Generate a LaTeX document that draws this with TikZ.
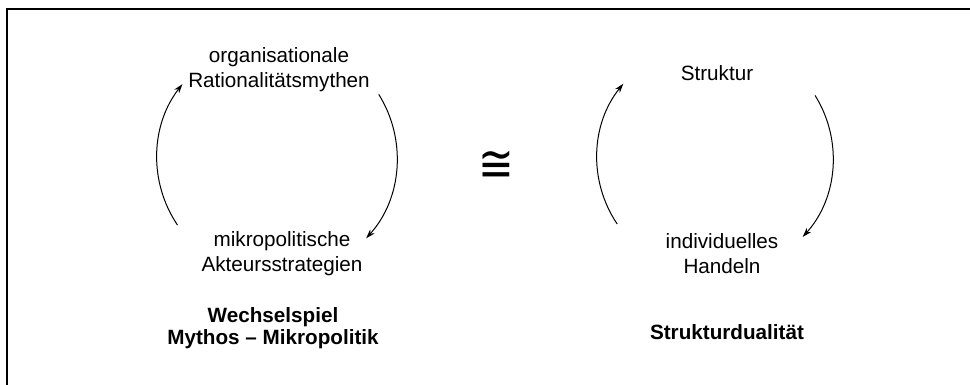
\documentclass[tikz,border=0pt]{standalone}
\usepackage{fontspec}
\setmainfont{Liberation Sans}
\newfontfamily\zeichenfont{DejaVu Sans}
\usetikzlibrary{arrows.meta}

\begin{document}
\begin{tikzpicture}[x=0.75pt,y=0.75pt,yscale=-1,xscale=1,
  lbl/.style={inner sep=0.75pt,align=center,font=\fontsize{15.5}{18.75}\selectfont},
  titel/.style={inner sep=0.75pt,align=center,font=\fontsize{15.5}{16.5}\selectfont\bfseries},
  kreis/.style={line width=0.75pt,-{Stealth[length=7pt,width=4.5pt]}}]
\useasboundingbox (0,0) rectangle (970,385);

%Shape: Frame
\draw [line width=1.2pt] (970,9) -- (7,9) -- (7,385) ;

%Shape: centres of the two cycles
\coordinate (mitte-l) at (277,158);
\coordinate (mitte-r) at (715,158);

% Text Node
\node [lbl] (mythen) at (279,70) {organisationale\\Rationalitätsmythen};
% Text Node
\node [lbl] (strategien) at (282,254) {mikropolitische\\Akteursstrategien};
% Text Node
\node [titel] (wechsel) at (273,328) {Wechselspiel\\Mythos -- Mikropolitik};

% Text Node
\node [lbl] (struktur) at (717,73) {Struktur};
% Text Node
\node [lbl] (handeln) at (722,254) {individuelles\\Handeln};
% Text Node
\node [titel] (dualitaet) at (727,332) {Strukturdualität};

% Text Node
\node [inner sep=0pt,font=\fontsize{32}{32}\zeichenfont,yscale=1.2] (gleich) at (496,166) {≅};

%Shape: Arc
\draw [kreis] ([shift={(146:120)}]mitte-l) arc [start angle=146, end angle=218, radius=120] ;
%Shape: Arc
\draw [kreis] ([shift={(-32:120)}]mitte-l) arc [start angle=-32, end angle=42, radius=120] ;
%Shape: Arc
\draw [kreis] ([shift={(146:118)}]mitte-r) arc [start angle=146, end angle=219, radius=118] ;
%Shape: Arc
\draw [kreis] ([shift={(-32:118)}]mitte-r) arc [start angle=-32, end angle=42, radius=118] ;

\end{tikzpicture}
\end{document}
